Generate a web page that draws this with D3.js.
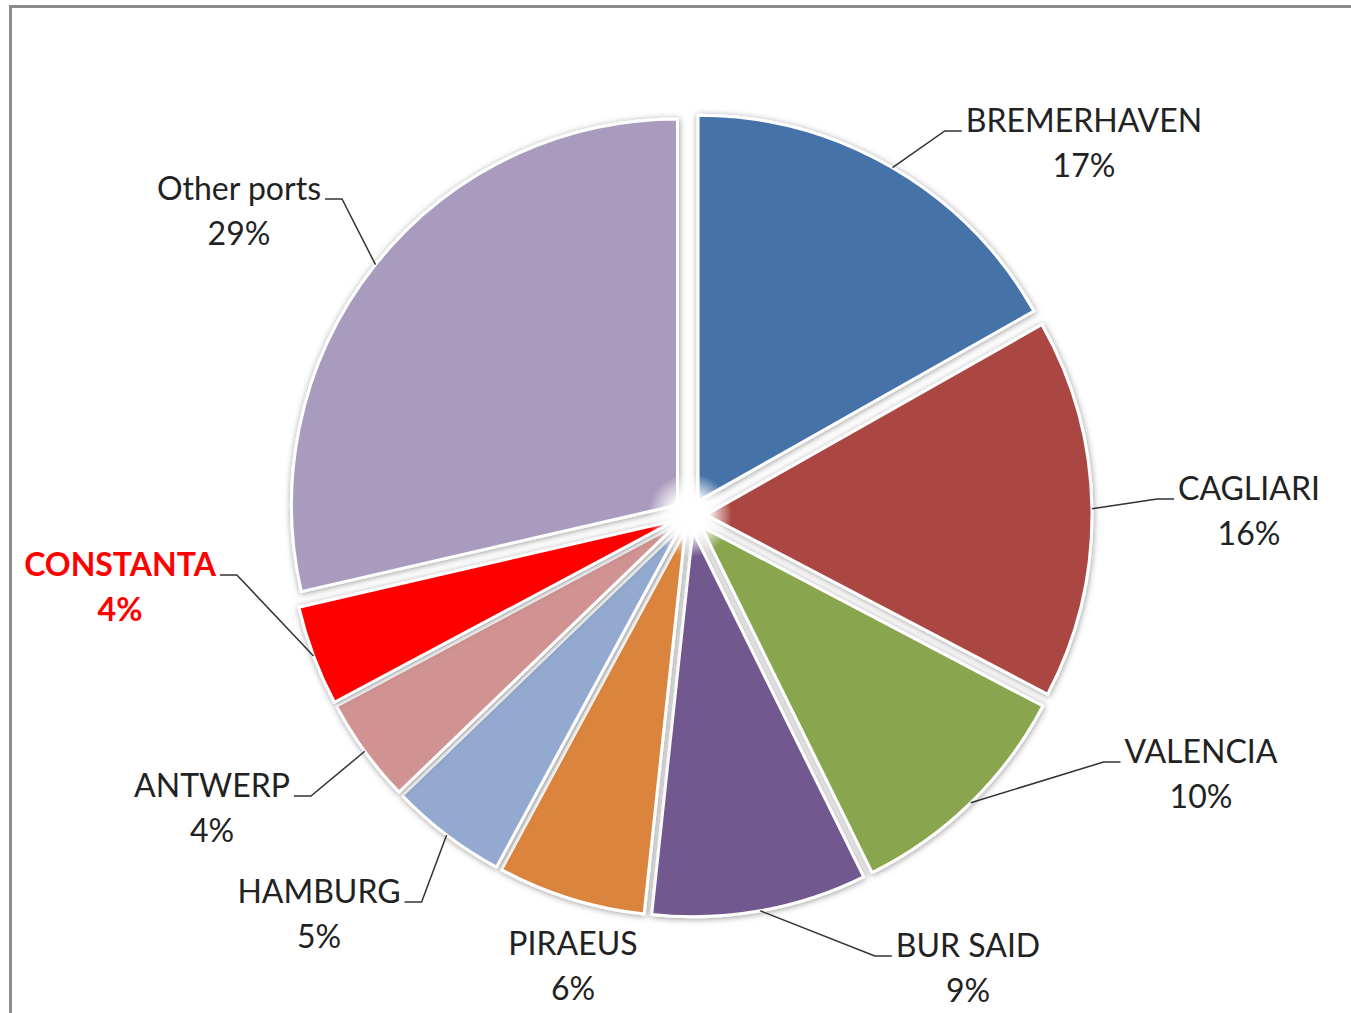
<!DOCTYPE html>
<html><head><meta charset="utf-8">
<script src="https://cdn.jsdelivr.net/npm/d3@7"></script>
<style>html,body{margin:0;padding:0;background:#fff;overflow:hidden}</style>
</head><body>
<svg id="chart" width="1351" height="1013"></svg>
<script>
// ---- data ----
const ports  = ["BREMERHAVEN","CAGLIARI","VALENCIA","BUR SAID","PIRAEUS","HAMBURG","ANTWERP","CONSTANTA","Other ports"];
const shares = [16.8,15.9,10.0,9.0,6.2,4.9,4.4,4.2,28.6];
const colors = ["#4572A7","#AA4643","#89A54E","#71588F","#DB843D","#93A9CF","#D19392","#FF0000","#A99BBD"];
const highlighted = ["CONSTANTA"];

// ---- layout ----
const W = 1351, H = 1013;
const cx = 690, cy = 515, R = 386, explode = 16;
// label anchor (centre x, first baseline) relative to pie centre; leader side
const labelLayout = [
  {dx: 394, dy:-383, side:"left"},
  {dx: 559, dy: -15, side:"left"},
  {dx: 511, dy: 248, side:"left"},
  {dx: 278, dy: 442, side:"left"},
  {dx:-117, dy: 440, side:"none"},
  {dx:-371, dy: 388, side:"right"},
  {dx:-478, dy: 282, side:"right"},
  {dx:-570, dy:  61, side:"right"},
  {dx:-451, dy:-315, side:"right"}
];
const fontSize = 32, lineGap = 45;

const svg = d3.select("#chart");
const defs = svg.append("defs");
const f = defs.append("filter").attr("id","sh").attr("x","-20%").attr("y","-20%").attr("width","140%").attr("height","140%");
f.append("feDropShadow").attr("dx",0.5).attr("dy",1).attr("stdDeviation",3)
  .attr("flood-color","#000").attr("flood-opacity",0.4);
const rg = defs.append("radialGradient").attr("id","glow");
rg.append("stop").attr("offset","0%").attr("stop-color","#fff").attr("stop-opacity",1);
rg.append("stop").attr("offset","45%").attr("stop-color","#fff").attr("stop-opacity",0.95);
rg.append("stop").attr("offset","100%").attr("stop-color","#fff").attr("stop-opacity",0);

// frame
svg.append("rect").attr("x",10.5).attr("y",6.5).attr("width",1400).attr("height",1100)
  .attr("fill","none").attr("stroke","#8c8c8c").attr("stroke-width",3);

const data = ports.map((p,i)=>({name:p, value:shares[i], color:colors[i], layout:labelLayout[i]}));
const pie = d3.pie().value(d=>d.value).sort(null);
const arcs = pie(data);
const arc = d3.arc().innerRadius(0).outerRadius(R);

const g = svg.append("g").attr("transform",`translate(${cx},${cy})`);
const mid = a => (a.startAngle + a.endAngle)/2;

g.selectAll("path.slice").data(arcs).join("path")
  .attr("class","slice")
  .attr("transform", a => `translate(${explode*Math.sin(mid(a))},${-explode*Math.cos(mid(a))})`)
  .attr("d", arc)
  .attr("fill", a => a.data.color)
  .attr("stroke","#fff").attr("stroke-width",3).attr("stroke-linejoin","round")
  .attr("filter","url(#sh)");

g.append("circle").attr("r",42).attr("fill","url(#glow)");

// labels
const lab = svg.append("g").attr("font-family","Lato, 'Open Sans', sans-serif").attr("font-size",fontSize);
arcs.forEach(a => {
  const L = a.data.layout;
  const hi = highlighted.includes(a.data.name);
  const x = cx + L.dx, y = cy + L.dy;
  const t = lab.append("text").attr("text-anchor","middle")
    .attr("fill", hi ? "#FF0000" : "#222").attr("font-weight", hi ? "bold" : "normal");
  t.append("tspan").attr("x",x).attr("y",y).text(a.data.name);
  t.append("tspan").attr("x",x).attr("y",y+lineGap).text(Math.round(a.data.value)+"%");
  if (L.side === "none") return;
  const w = t.select("tspan").node().getComputedTextLength();
  const m = mid(a);
  const px = cx + (R+explode)*Math.sin(m), py = cy - (R+explode)*Math.cos(m);
  let e1, e2;
  if (L.side === "left") { e2 = x - w/2 - 4; e1 = e2 - 17; }
  else { e2 = x + w/2 + 4; e1 = e2 + 17; }
  const by = y - 1;
  svg.append("path").attr("d", d3.line()([[px,py],[e1,by],[e2,by]]))
    .attr("fill","none").attr("stroke","#333").attr("stroke-width",1.5);
});
</script>
</body></html>
